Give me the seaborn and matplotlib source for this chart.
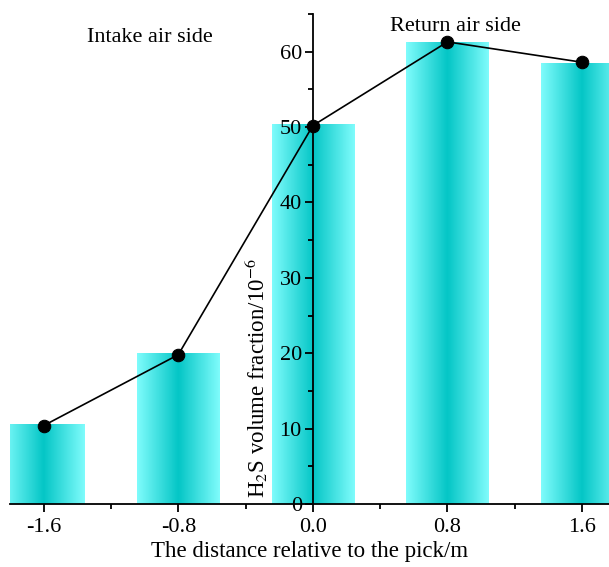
import numpy as np
import pandas as pd
import matplotlib
matplotlib.use("Agg")
import matplotlib.pyplot as plt
from matplotlib.colors import LinearSegmentedColormap
from matplotlib.ticker import MultipleLocator
import seaborn as sns

distance = [-1.6, -0.8, 0.0, 0.8, 1.6]
bar_values = [10.5, 19.9, 50.3, 61.2, 58.5]
line_values = [10.4, 19.8, 50.2, 61.3, 58.6]
x_ticks = [-1.6, -0.8, 0.0, 0.8, 1.6]
x_tick_labels = ["-1.6", "-0.8", "0.0", "0.8", "1.6"]
y_ticks = [0, 10, 20, 30, 40, 50, 60]

sns.set_style("ticks")
plt.rcParams['font.family'] = ['Liberation Serif', 'DejaVu Serif']
plt.rcParams['mathtext.fontset'] = 'stix'
plt.rcParams['text.color'] = 'black'
plt.rcParams['axes.labelcolor'] = 'black'
plt.rcParams['axes.edgecolor'] = 'black'

df = pd.DataFrame({"d": distance, "v": bar_values})
dl = pd.DataFrame({"d": distance, "v": line_values})

fig = plt.figure(figsize=(6.09, 5.67), dpi=100)
ax = fig.add_axes([10/609, 63/567, 599/609, 490/567])

sns.barplot(data=df, x="d", y="v", native_scale=True, width=0.61, ax=ax,
            color="#00cccc", edgecolor="none", zorder=1)

cmap = LinearSegmentedColormap.from_list("cy", ["#80fcfc", "#04c6c6", "#80fcfc"])
grad = np.linspace(0, 1, 256).reshape(1, -1)
for p in list(ax.patches):
    x0, y0 = p.get_x(), p.get_y()
    w, h = p.get_width(), p.get_height()
    p.set_facecolor("none")
    im = ax.imshow(grad, cmap=cmap, aspect="auto", extent=[x0, x0 + w, y0, y0 + h],
                   zorder=1, interpolation="bilinear")
    im.set_clip_path(p)
    im.set_clip_box(ax.bbox)

sns.lineplot(data=dl, x="d", y="v", ax=ax, color="black", linewidth=1.2,
             marker="o", markersize=9, markeredgecolor="black", zorder=5)

ax.set_axisbelow(False)
ax.set_xlim(-1.8, 1.76)
ax.set_ylim(0, 65)
ax.set_xticks(x_ticks)
ax.set_xticklabels(x_tick_labels)
ax.set_yticks(y_ticks)
ax.xaxis.set_minor_locator(MultipleLocator(0.4))
ax.yaxis.set_minor_locator(MultipleLocator(5))
ax.spines['left'].set_position(('data', 0))
ax.spines['top'].set_visible(False)
ax.spines['right'].set_visible(False)
for s in ['left', 'bottom']:
    ax.spines[s].set_linewidth(1.3)
    ax.spines[s].set_color('black')
    ax.spines[s].set_zorder(6)
ax.xaxis.set_zorder(6)
ax.yaxis.set_zorder(6)
ax.tick_params(axis='both', which='major', direction='out', length=6, width=1.3,
               labelsize=16, colors='black')
ax.tick_params(axis='both', which='minor', direction='out', length=3.5, width=1.3,
               colors='black')
ax.tick_params(axis='y', pad=2)
ax.tick_params(axis='x', pad=4)

ax.set_xlabel("The distance relative to the pick/m", fontsize=16.5, labelpad=3, color='black')
ax.set_ylabel("H$_2$S volume fraction/10$^{-6}$", fontsize=16.5, color='black')
ax.yaxis.set_label_coords(0.434, 0.257)

ax.text(-0.97, 61.9, "Intake air side", fontsize=16, ha="center", va="center", color='black')
ax.text(0.845, 63.3, "Return air side", fontsize=16, ha="center", va="center", color='black')

ax.grid(False)
fig.savefig("out.png", dpi=100)
